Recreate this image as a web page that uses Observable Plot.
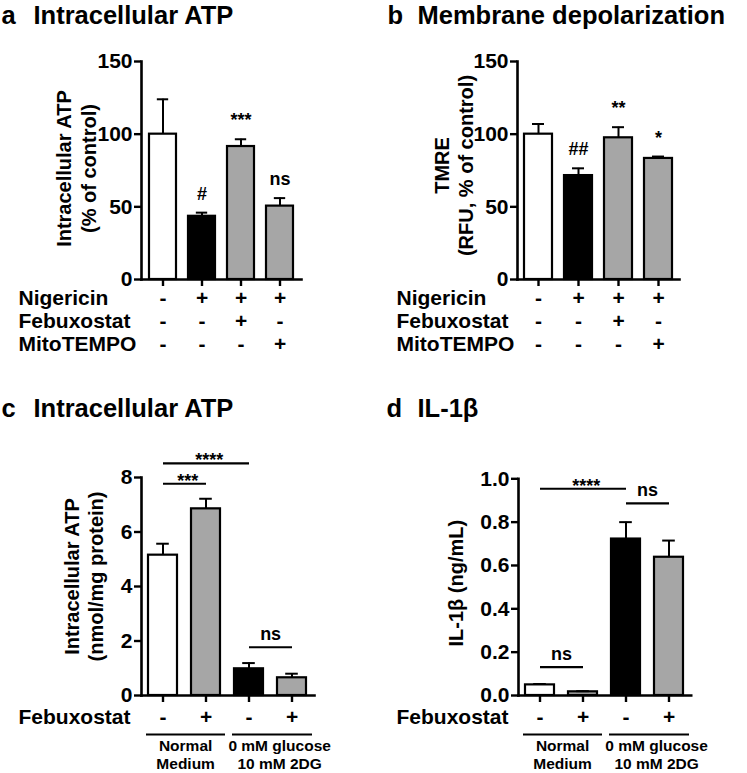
<!DOCTYPE html>
<html>
<head>
<meta charset="utf-8">
<script src="https://cdn.jsdelivr.net/npm/d3@7"></script>
<script src="https://cdn.jsdelivr.net/npm/@observablehq/plot@0.6"></script>
<style>
  html, body { margin: 0; padding: 0; background: #fff; }
  #root { position: relative; width: 747px; height: 773px; overflow: hidden; background: #fff; }
  #root svg { position: absolute; overflow: visible; }
</style>
</head>
<body>
<div id="root"></div>
<script>
// ---------- DATA ----------
// Panels a & b
const abConditions = ["Control", "Nigericin", "Nigericin + Febuxostat", "Nigericin + MitoTEMPO"];
const nigericinSigns = ["-", "+", "+", "+"];
const febuxostatSignsAB = ["-", "-", "+", "-"];
const mitoTempoSigns = ["-", "-", "-", "+"];

const atpPercentMean = [100, 43.5, 91.5, 50.5];
const atpPercentSEM = [24, 2.5, 5, 5.5];
const atpPercentSig = ["", "#", "***", "ns"];

const tmreMean = [100, 71.5, 97.5, 83.3];
const tmreSEM = [7, 5, 7.3, 1.3];
const tmreSig = ["", "##", "**", "*"];

// Panels c & d
const cdConditions = ["Normal / Febuxostat -", "Normal / Febuxostat +", "2DG / Febuxostat -", "2DG / Febuxostat +"];
const febuxostatSignsCD = ["-", "+", "-", "+"];
const mediumLabels = ["Normal\nMedium", "0 mM glucose\n10 mM 2DG"];
const mediumFirst = [0, 2];
const mediumLast = [1, 3];

const atpNmolMean = [5.15, 6.85, 0.98, 0.65];
const atpNmolSEM = [0.42, 0.37, 0.21, 0.15];
const atpNmolBracketFrom = [0, 0, 2];
const atpNmolBracketTo = [1, 2, 3];
const atpNmolBracketLevel = [7.77, 8.52, 1.77];
const atpNmolBracketLabel = ["***", "****", "ns"];

const il1bMean = [0.049, 0.017, 0.722, 0.638];
const il1bSEM = [0.004, 0.003, 0.078, 0.077];
const il1bBracketFrom = [0, 0, 2];
const il1bBracketTo = [1, 2, 3];
const il1bBracketLevel = [0.131, 0.954, 0.887];
const il1bBracketLabel = ["ns", "****", "ns"];

// ---------- STYLE ----------
const FONT = '"Liberation Sans", Arial, Helvetica, sans-serif';
const WHITE = "#ffffff", BLACK = "#000000", GRAY = "#a6a6a6";
const abFills = [WHITE, BLACK, GRAY, GRAY];
const cdFills = [WHITE, GRAY, BLACK, GRAY];

function drawPanel(p) {
  const n = p.cats.length;
  const innerW = p.width - p.mL - p.mR;
  const step = innerW / (n - p.pi + 2 * p.po);
  const bw = step * (1 - p.pi);
  const capInset = (bw - p.capW) / 2;
  const rows = p.cats.map((c, i) => ({
    c, v: p.mean[i], top: p.mean[i] + p.sem[i], fill: p.fills[i], sig: p.sig ? p.sig[i] : ""
  }));

  const marks = [
    Plot.barY(rows, {x: "c", y: "v", fill: "fill", stroke: BLACK, strokeWidth: 2.2}),
    Plot.ruleX(rows, {x: "c", y1: "v", y2: "top", stroke: BLACK, strokeWidth: 2}),
    Plot.tickY(rows, {x: "c", y: "top", stroke: BLACK, strokeWidth: 2, insetLeft: capInset, insetRight: capInset}),
    Plot.frame({anchor: "left", stroke: BLACK, strokeWidth: 2.6}),
    Plot.frame({anchor: "bottom", stroke: BLACK, strokeWidth: 2.6}),
    Plot.axisY({ticks: p.yTicks, tickFormat: p.yFormat, tickSize: 7, tickPadding: 2, fontSize: 21, strokeWidth: 2.4, label: null}),
    Plot.axisX({tickSize: 7, tickFormat: () => "", strokeWidth: 2.4, label: null}),
    // y-axis title
    Plot.text([p.yLabel], {frameAnchor: "left", rotate: -90, textAnchor: "middle", dx: p.yLabelDx, dy: p.yLabelDy,
      fontSize: 20, lineAnchor: "middle", lineHeight: 1.22}),
    // panel letter + title
    Plot.text([p.letter], {frameAnchor: "top-left", textAnchor: "start", lineAnchor: "bottom",
      dx: p.letterDx, dy: p.titleDy, fontSize: 25.5}),
    Plot.text([p.title], {frameAnchor: "top-left", textAnchor: "start", lineAnchor: "bottom",
      dx: p.titleDx, dy: p.titleDy, fontSize: 25.5})
  ];

  // significance above bars
  if (p.sig) {
    marks.push(Plot.text(rows.filter(d => d.sig), {x: "c", y: "top", text: "sig", dy: -13,
      lineAnchor: "bottom", fontSize: 18}));
  }

  // treatment rows below axis
  p.rowsBelow.forEach((r, k) => {
    marks.push(Plot.text(rows, {x: "c", text: (d, i) => r.signs[i], frameAnchor: "bottom",
      dy: p.rowDy0 + k * p.rowStep, fontSize: 21, lineAnchor: "middle"}));
    marks.push(Plot.text([r.name], {frameAnchor: "bottom-left", textAnchor: "start",
      dx: p.rowDx, dy: p.rowDy0 + k * p.rowStep, fontSize: 21, lineAnchor: "middle"}));
  });

  // comparison brackets
  if (p.brackets) {
    const b = p.brackets;
    const br = b.from.map((f, i) => ({x1: p.cats[f], x2: p.cats[b.to[i]], level: b.level[i]}));
    marks.push(Plot.link(br, {x1: "x1", x2: "x2", y1: "level", y2: "level", stroke: BLACK, strokeWidth: 2.2}));
    b.from.forEach((f, i) => {
      const lab = b.label[i];
      const isStar = lab.includes("*");
      marks.push(Plot.text([lab], {x: () => p.cats[f], y: () => b.level[i],
        dx: step * (b.to[i] - f) / 2 + (isStar ? 3 : 0), dy: isStar ? 3 : -7,
        lineAnchor: "bottom", fontSize: 18}));
    });
  }

  // medium groups
  if (p.groups) {
    const g = p.groups;
    g.labels.forEach((lab, i) => {
      marks.push(Plot.ruleY([lab], {x1: () => p.cats[g.first[i]], x2: () => p.cats[g.last[i]], y: () => 0,
        dy: 39, insetLeft: -2, insetRight: i === 0 ? -5 : -6, stroke: BLACK, strokeWidth: 2}));
      marks.push(Plot.text([lab], {x: () => p.cats[g.first[i]], frameAnchor: "bottom",
        dx: step * (g.last[i] - g.first[i]) / 2 + (i === 0 ? 1 : 9), dy: 59,
        fontSize: 15.5, lineAnchor: "middle", lineHeight: 1.18}));
    });
  }

  const svg = Plot.plot({
    width: p.width, height: p.height,
    marginLeft: p.mL, marginRight: p.mR, marginTop: p.mT, marginBottom: p.mB,
    style: {fontFamily: FONT, fontWeight: "bold", color: BLACK, background: "transparent", overflow: "visible"},
    x: {domain: p.cats, paddingInner: p.pi, paddingOuter: p.po, align: 0.5},
    y: {domain: p.yDomain},
    color: {type: "identity"},
    marks
  });
  svg.style.left = p.left + "px";
  svg.style.top = p.top + "px";
  document.getElementById("root").appendChild(svg);
}

const abRows = [
  {name: "Nigericin", signs: nigericinSigns},
  {name: "Febuxostat", signs: febuxostatSignsAB},
  {name: "MitoTEMPO", signs: mitoTempoSigns}
];

drawPanel({
  left: 0, top: 0, width: 374, height: 390, mL: 141, mR: 73, mT: 61, mB: 111,
  cats: abConditions, mean: atpPercentMean, sem: atpPercentSEM, fills: abFills, sig: atpPercentSig,
  pi: 0.3, po: 0.175, capW: 12,
  yDomain: [0, 150], yTicks: [0, 50, 100, 150], yFormat: d3.format("d"),
  yLabel: "Intracellular ATP\n(% of control)", yLabelDx: -66, yLabelDy: -2,
  letter: "a", title: "Intracellular ATP", letterDx: -140, titleDx: -108, titleDy: -38,
  rowsBelow: abRows, rowDx: -123, rowDy0: 19, rowStep: 23
});

drawPanel({
  left: 374, top: 0, width: 373, height: 390, mL: 143, mR: 68, mT: 61, mB: 111,
  cats: abConditions, mean: tmreMean, sem: tmreSEM, fills: abFills, sig: tmreSig,
  pi: 0.3, po: 0.175, capW: 12,
  yDomain: [0, 150], yTicks: [0, 50, 100, 150], yFormat: d3.format("d"),
  yLabel: "TMRE\n(RFU, % of control)", yLabelDx: -64.5, yLabelDy: -5,
  letter: "b", title: "Membrane depolarization", letterDx: -130, titleDx: -100, titleDy: -38,
  rowsBelow: abRows, rowDx: -121, rowDy0: 19, rowStep: 23
});

drawPanel({
  left: 0, top: 390, width: 374, height: 383, mL: 141, mR: 60, mT: 87, mB: 78,
  cats: cdConditions, mean: atpNmolMean, sem: atpNmolSEM, fills: cdFills,
  pi: 0.32, po: 0.16, capW: 13,
  yDomain: [0, 8], yTicks: [0, 2, 4, 6, 8], yFormat: d3.format("d"),
  yLabel: "Intracellular ATP\n(nmol/mg protein)", yLabelDx: -58.5, yLabelDy: -10,
  letter: "c", title: "Intracellular ATP", letterDx: -140, titleDx: -108, titleDy: -61,
  rowsBelow: [{name: "Febuxostat", signs: febuxostatSignsCD}], rowDx: -123, rowDy0: 22, rowStep: 23,
  brackets: {from: atpNmolBracketFrom, to: atpNmolBracketTo, level: atpNmolBracketLevel, label: atpNmolBracketLabel},
  groups: {labels: mediumLabels, first: mediumFirst, last: mediumLast}
});

drawPanel({
  left: 374, top: 390, width: 373, height: 383, mL: 144, mR: 56.3, mT: 88.3, mB: 78,
  cats: cdConditions, mean: il1bMean, sem: il1bSEM, fills: cdFills,
  pi: 0.32, po: 0.16, capW: 13,
  yDomain: [0, 1], yTicks: [0, 0.2, 0.4, 0.6, 0.8, 1.0], yFormat: d3.format(".1f"),
  yLabel: "IL-1β (ng/mL)", yLabelDx: -63, yLabelDy: -4,
  letter: "d", title: "IL-1β", letterDx: -132, titleDx: -101, titleDy: -62.3,
  rowsBelow: [{name: "Febuxostat", signs: febuxostatSignsCD}], rowDx: -122, rowDy0: 22, rowStep: 23,
  brackets: {from: il1bBracketFrom, to: il1bBracketTo, level: il1bBracketLevel, label: il1bBracketLabel},
  groups: {labels: mediumLabels, first: mediumFirst, last: mediumLast}
});
</script>
</body>
</html>
